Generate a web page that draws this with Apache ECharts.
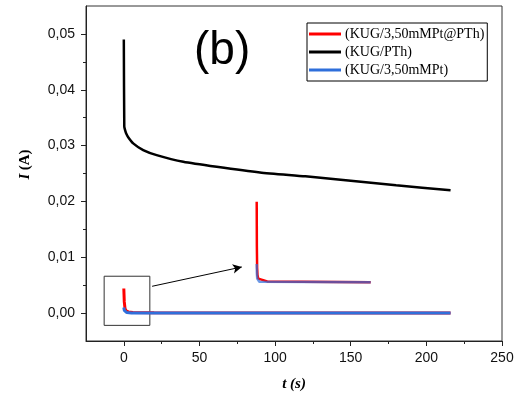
<!DOCTYPE html>
<html>
<head>
<meta charset="utf-8">
<script src="https://cdn.jsdelivr.net/npm/echarts@6/dist/echarts.min.js"></script>
<style>
  html, body { margin: 0; padding: 0; background: #fff; }
  #chart { width: 518px; height: 399px; }
</style>
</head>
<body>
<div id="chart"></div>
<script>
// Series names
const NAME_RED = '(KUG/3,50mMPt@PTh)'
const NAME_BLACK = '(KUG/PTh)'
const NAME_BLUE = '(KUG/3,50mMPt)'

// Chronoamperometry data (t in s, I in A)
const blackT = [0, 0.3, 0.7, 1.5, 2.9, 6.2, 12.8, 21.7, 39.3, 61.4, 90, 120, 150, 180, 216]
const blackI = [0.049, 0.0334, 0.0329, 0.0322, 0.0315, 0.0304, 0.0292, 0.0283, 0.0271, 0.0262, 0.0252, 0.0245, 0.0237, 0.0229, 0.0220]

const redT = [0, 0.3, 0.8, 1.5, 3, 6, 20, 216]
const redI = [0.0044, 0.0020, 0.0008, 0.0004, 0.0002, 0.0001, 0.00005, 0]

const blueT = [0, 0.3, 1, 2, 5, 216]
const blueI = [0.0010, 0.0005, 0.0002, 0.0001, 0.00003, 0]

// Axis ticks
const xMajor = [0, 50, 100, 150, 200, 250]
const xMinor = [25, 75, 125, 175, 225]
const yMajor = [0, 0.01, 0.02, 0.03, 0.04, 0.05]
const yMinor = [0.005, 0.015, 0.025, 0.035, 0.045]

// Zoom box + arrow annotation (data units)
const zoomBox = [[-13, 0.0066], [17.2, -0.0022]]
const arrowFromTo = [[18.7, 0.0048], [78, 0.00826]]

const AXIS_COLOR = '#222'
const COLOR_RED = '#ff0000'
const COLOR_BLACK = '#000000'
const COLOR_BLUE = '#2f6fdb'
const SANS = 'Liberation Sans'
const SERIF = 'Liberation Serif'

const zip = (a, b) => a.map((v, i) => [v, b[i]])

const chart = echarts.init(document.getElementById('chart'))

chart.setOption({
  animation: false,
  backgroundColor: '#fff',
  title: {
    text: '(b)',
    left: 194,
    top: 28,
    padding: 0,
    textStyle: { fontFamily: SANS, fontSize: 46, fontWeight: 'normal', color: '#000', lineHeight: 46 },
  },
  legend: {
    data: [NAME_RED, NAME_BLACK, NAME_BLUE],
    orient: 'vertical',
    left: 307,
    top: 23,
    padding: [4, 3, 4, 2],
    itemGap: 4,
    itemWidth: 32,
    itemHeight: 3,
    icon: 'rect',
    borderColor: '#000',
    borderWidth: 1,
    textStyle: { fontFamily: SERIF, fontSize: 14, color: '#000', lineHeight: 14, padding: [0, 0, 0, -1] },
  },
  grid: [
    { left: 86, top: 6, right: 16, bottom: 58, show: true, borderColor: '#333', borderWidth: 1 },
    // inset
    { left: 256.7, top: 190.7, width: 114, height: 100.8 },
  ],
  xAxis: [
    {
      type: 'value',
      gridIndex: 0,
      position: 'bottom',
      min: -25,
      max: 250,
      name: 't (s)',
      nameLocation: 'middle',
      nameGap: 36,
      nameTextStyle: { fontFamily: SERIF, fontSize: 15, fontWeight: 'bold', fontStyle: 'italic', color: '#000' },
      axisLine: { onZero: false, lineStyle: { color: AXIS_COLOR, width: 1 } },
      axisTick: { customValues: xMajor, length: 5, lineStyle: { color: AXIS_COLOR } },
      axisLabel: { customValues: xMajor, margin: 10, fontFamily: SANS, fontSize: 14, color: '#111' },
      splitLine: { show: false },
    },
    {
      type: 'value',
      gridIndex: 0,
      position: 'bottom',
      min: -25,
      max: 250,
      axisLine: { show: false, onZero: false },
      axisTick: { show: true, customValues: xMinor, length: 3, lineStyle: { color: AXIS_COLOR } },
      axisLabel: { show: false },
      splitLine: { show: false },
    },
    {
      type: 'value',
      gridIndex: 1,
      min: 0,
      max: 216,
      show: false,
    },
  ],
  yAxis: [
    {
      type: 'value',
      gridIndex: 0,
      position: 'left',
      min: -0.005,
      max: 0.055,
      name: '{i|I} {u|(A)}',
      nameLocation: 'middle',
      nameGap: 53,
      nameTextStyle: {
        padding: [0, 0, 0, 18],
        rich: {
          i: { fontFamily: SERIF, fontSize: 15, fontWeight: 'bold', fontStyle: 'italic', color: '#000' },
          u: { fontFamily: SERIF, fontSize: 15, fontWeight: 'bold', color: '#000' },
        },
      },
      axisLine: { show: true, onZero: false, lineStyle: { color: AXIS_COLOR, width: 1 } },
      axisTick: { show: true, customValues: yMajor, length: 5, lineStyle: { color: AXIS_COLOR } },
      axisLabel: {
        customValues: yMajor,
        margin: 11,
        fontFamily: SANS,
        fontSize: 14,
        color: '#111',
        formatter: (v) => v.toFixed(2).replace('.', ','),
      },
      splitLine: { show: false },
    },
    {
      type: 'value',
      gridIndex: 0,
      position: 'left',
      min: -0.005,
      max: 0.055,
      axisLine: { show: false, onZero: false },
      axisTick: { show: true, customValues: yMinor, length: 3, lineStyle: { color: AXIS_COLOR } },
      axisLabel: { show: false },
      splitLine: { show: false },
    },
    {
      type: 'value',
      gridIndex: 1,
      min: -0.0005,
      max: 0.005,
      show: false,
    },
  ],
  series: [
    {
      name: NAME_RED,
      type: 'line',
      xAxisIndex: 0,
      yAxisIndex: 0,
      showSymbol: false,
      color: COLOR_RED,
      lineStyle: { color: COLOR_RED, width: 3 },
      data: zip(redT, redI),
      z: 2,
    },
    {
      name: NAME_BLACK,
      type: 'line',
      xAxisIndex: 0,
      yAxisIndex: 0,
      showSymbol: false,
      smooth: 0.2,
      color: COLOR_BLACK,
      lineStyle: { color: COLOR_BLACK, width: 2.5 },
      data: zip(blackT, blackI),
      z: 2,
    },
    {
      name: NAME_BLUE,
      type: 'line',
      xAxisIndex: 0,
      yAxisIndex: 0,
      showSymbol: false,
      color: COLOR_BLUE,
      lineStyle: { color: COLOR_BLUE, width: 3 },
      data: zip(blueT, blueI),
      z: 3,
      markArea: {
        silent: true,
        itemStyle: { color: 'rgba(0,0,0,0)', borderColor: '#333', borderWidth: 1 },
        data: [[{ coord: zoomBox[0] }, { coord: zoomBox[1] }]],
      },
      markLine: {
        silent: true,
        symbol: ['none', 'arrow'],
        symbolSize: [7, 9],
        label: { show: false },
        lineStyle: { color: '#000', width: 1, type: 'solid' },
        data: [[{ coord: arrowFromTo[0] }, { coord: arrowFromTo[1] }]],
      },
    },
    // inset (magnified view of the boxed region)
    {
      name: NAME_RED,
      type: 'line',
      xAxisIndex: 2,
      yAxisIndex: 2,
      showSymbol: false,
      color: COLOR_RED,
      lineStyle: { color: COLOR_RED, width: 2.5 },
      data: zip(redT, redI),
      z: 2,
    },
    {
      name: NAME_BLUE,
      type: 'line',
      xAxisIndex: 2,
      yAxisIndex: 2,
      showSymbol: false,
      color: COLOR_BLUE,
      lineStyle: { color: COLOR_BLUE, width: 2.5, opacity: 0.7 },
      data: zip(blueT, blueI),
      z: 3,
    },
  ],
})
</script>
</body>
</html>
